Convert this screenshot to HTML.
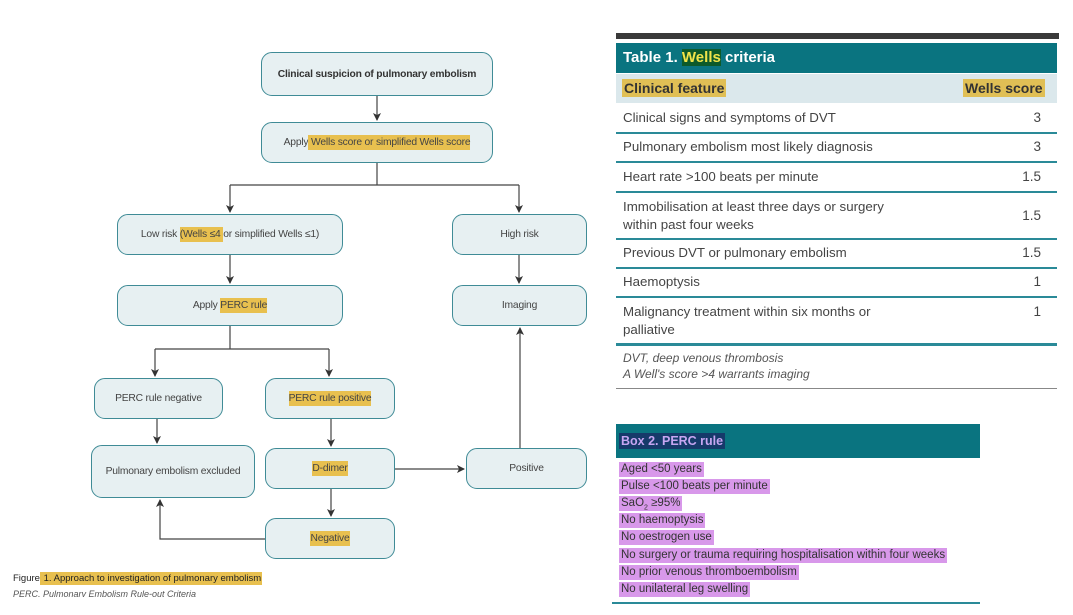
<!DOCTYPE html>
<html><head><meta charset="utf-8"><style>
body{margin:0;width:1073px;height:615px;background:#fff;position:relative;overflow:hidden;font-family:"Liberation Sans",sans-serif;}
.b{position:absolute;box-sizing:border-box;border:1.3px solid #3f8b96;border-radius:11px;background:#e7f0f2;display:flex;align-items:center;justify-content:center;font-size:10.3px;color:#444;letter-spacing:-0.2px}
.h{background:#e8c04f;padding:2px 0}
.r{position:absolute;left:616px;width:441px;font-size:13.3px;color:#444;box-sizing:border-box;padding-left:7px}
.l{position:absolute;left:616px;width:441px;height:2px;background:#2a8a98}
.s{position:absolute;right:16px;font-size:13.5px;color:#444}
.p{position:absolute;left:619px;font-size:11.5px;color:#333;background:#d898ea;padding:0 2px;line-height:15px}
</style></head><body>
<svg width="1073" height="615" style="position:absolute;left:0;top:0">
<defs><marker id="a" markerWidth="8" markerHeight="8" refX="7" refY="4" orient="auto" markerUnits="userSpaceOnUse"><path d="M0,0 L8,4 L0,8 L2,4z" fill="#333"/></marker></defs>
<g stroke="#444" stroke-width="1.2" fill="none">
<path d="M377 96 V120" marker-end="url(#a)"/>
<path d="M377 163 V185 M230 185 H519"/>
<path d="M230 185 V212" marker-end="url(#a)"/>
<path d="M519 185 V212" marker-end="url(#a)"/>
<path d="M230 255 V283" marker-end="url(#a)"/>
<path d="M519 255 V283" marker-end="url(#a)"/>
<path d="M230 326 V349 H329 M155 349 H230"/>
<path d="M155 349 V376" marker-end="url(#a)"/>
<path d="M329 349 V376" marker-end="url(#a)"/>
<path d="M157 419 V443" marker-end="url(#a)"/>
<path d="M331 419 V446" marker-end="url(#a)"/>
<path d="M331 489 V516" marker-end="url(#a)"/>
<path d="M395 469 H464" marker-end="url(#a)"/>
<path d="M520 448 V328" marker-end="url(#a)"/>
<path d="M265 539 H160 V500" marker-end="url(#a)"/>
</g></svg>
<div class="b" style="left:261px;top:52px;width:232px;height:44px;font-weight:bold;color:#333">Clinical suspicion of pulmonary embolism</div>
<div class="b" style="left:261px;top:122px;width:232px;height:41px">Apply<span class="h">&nbsp;Wells score or simplified Wells score</span></div>
<div class="b" style="left:117px;top:214px;width:226px;height:41px">Low risk&nbsp;<span class="h">(Wells ≤4&nbsp;</span>or simplified Wells ≤1)</div>
<div class="b" style="left:452px;top:214px;width:135px;height:41px">High risk</div>
<div class="b" style="left:117px;top:285px;width:226px;height:41px">Apply&nbsp;<span class="h">PERC rule</span></div>
<div class="b" style="left:452px;top:285px;width:135px;height:41px">Imaging</div>
<div class="b" style="left:94px;top:378px;width:129px;height:41px">PERC rule negative</div>
<div class="b" style="left:265px;top:378px;width:130px;height:41px"><span class="h">PERC rule positive</span></div>
<div class="b" style="left:91px;top:445px;width:164px;height:53px">Pulmonary embolism excluded</div>
<div class="b" style="left:265px;top:448px;width:130px;height:41px"><span class="h">D-dimer</span></div>
<div class="b" style="left:466px;top:448px;width:121px;height:41px">Positive</div>
<div class="b" style="left:265px;top:518px;width:130px;height:41px"><span class="h">Negative</span></div>
<div style="position:absolute;left:13px;top:573px;font-size:9.5px;color:#222">Figure<span class="h" style="padding:1px 1px"> 1. Approach to investigation of pulmonary embolism</span></div>
<div style="position:absolute;left:13px;top:589px;font-size:9px;font-style:italic;color:#555;height:8px;overflow:hidden">PERC, Pulmonary Embolism Rule-out Criteria</div>

<div style="position:absolute;left:616px;top:33px;width:443px;height:6px;background:#3a3a3a"></div>
<div style="position:absolute;left:616px;top:43px;width:441px;height:30px;background:#0a7480;color:#fff;font-weight:bold;font-size:15px;line-height:30px;padding-left:7px;box-sizing:border-box">Table 1. <span style="background:#0d5a2a;color:#f1e34a">Wells</span> criteria</div>
<div style="position:absolute;left:616px;top:74px;width:441px;height:29px;background:#dbe8ec"></div>
<div style="position:absolute;left:622px;top:79px;font-size:14px;font-weight:bold;color:#333;background:#e0bf55;padding:1px 2px">Clinical feature</div>
<div style="position:absolute;left:963px;top:79px;font-size:14px;font-weight:bold;color:#333;background:#e0bf55;padding:1px 2px">Wells score</div>
<div class="r" style="top:110px">Clinical signs and symptoms of DVT<span class="s">3</span></div>
<div class="l" style="top:132px"></div>
<div class="r" style="top:139px">Pulmonary embolism most likely diagnosis<span class="s">3</span></div>
<div class="l" style="top:161px"></div>
<div class="r" style="top:169px">Heart rate &gt;100 beats per minute<span class="s">1.5</span></div>
<div class="l" style="top:191px"></div>
<div class="r" style="top:198px;line-height:18px">Immobilisation at least three days or surgery<br>within past four weeks<span class="s" style="top:9px">1.5</span></div>
<div class="l" style="top:238px"></div>
<div class="r" style="top:245px">Previous DVT or pulmonary embolism<span class="s">1.5</span></div>
<div class="l" style="top:267px"></div>
<div class="r" style="top:274px">Haemoptysis<span class="s">1</span></div>
<div class="l" style="top:296px"></div>
<div class="r" style="top:303px;line-height:18px">Malignancy treatment within six months or<br>palliative<span class="s" style="top:0">1</span></div>
<div class="l" style="top:343px;height:3px"></div>
<div class="r" style="top:350px;font-size:12px;font-style:italic;line-height:16px;color:#555">DVT, deep venous thrombosis<br>A Well's score &gt;4 warrants imaging</div>
<div style="position:absolute;left:616px;top:388px;width:441px;height:1px;background:#888"></div>

<div style="position:absolute;left:616px;top:424px;width:364px;height:34px;background:#0a7480"></div>
<div style="position:absolute;left:619px;top:433px;font-size:12.5px;font-weight:bold;color:#c7a6f2;background:#163a6a;padding:1px 2px">Box 2. PERC rule</div>
<div class="p" style="top:462px">Aged &lt;50 years</div>
<div class="p" style="top:479px">Pulse &lt;100 beats per minute</div>
<div class="p" style="top:496px">SaO<sub style="font-size:7px;line-height:0">2</sub> ≥95%</div>
<div class="p" style="top:513px">No haemoptysis</div>
<div class="p" style="top:530px">No oestrogen use</div>
<div class="p" style="top:548px">No surgery or trauma requiring hospitalisation within four weeks</div>
<div class="p" style="top:565px">No prior venous thromboembolism</div>
<div class="p" style="top:582px">No unilateral leg swelling</div>
<div style="position:absolute;left:612px;top:602px;width:368px;height:2px;background:#2a8a98"></div>
</body></html>
